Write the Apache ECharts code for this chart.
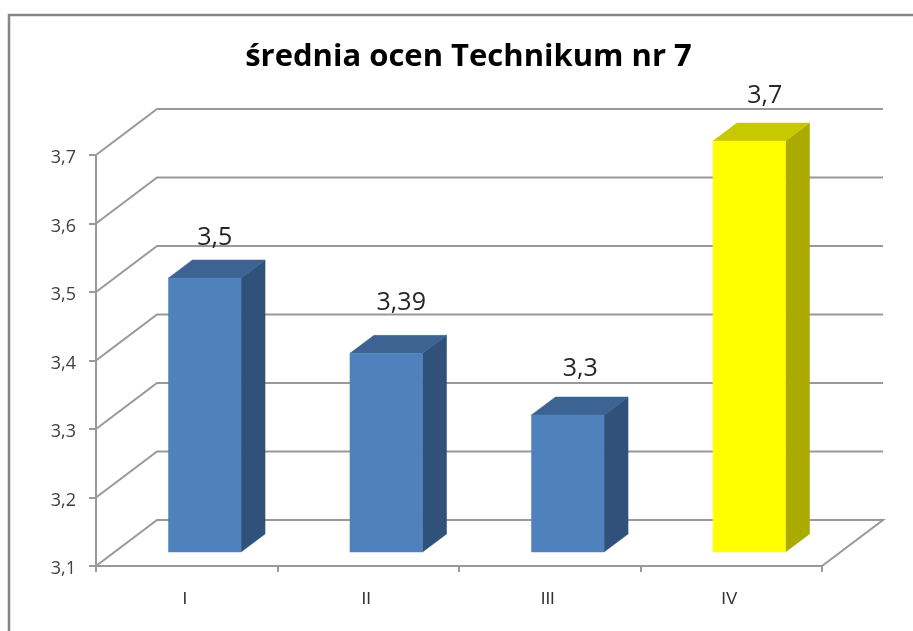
<!DOCTYPE html>
<html><head><meta charset="utf-8">
<style>html,body{margin:0;padding:0;background:#fff}#c{width:913px;height:631px}</style>
<script src="https://cdn.jsdelivr.net/npm/echarts@6/dist/echarts.min.js"></script>
</head><body><div id="c"></div>
<script>
const categories = ['I', 'II', 'III', 'IV'];
const values = [3.5, 3.39, 3.3, 3.7];
const valueLabels = ['3,5', '3,39', '3,3', '3,7'];
const yTicks = [3.1, 3.2, 3.3, 3.4, 3.5, 3.6, 3.7];
const titleText = 'średnia ocen Technikum nr 7';

const palette = [
  { front: '#4F81BD', top: '#3C6391', side: '#30527A' },
  { front: '#4F81BD', top: '#3C6391', side: '#30527A' },
  { front: '#4F81BD', top: '#3C6391', side: '#30527A' },
  { front: '#FFFF00', top: '#C8C800', side: '#AAAA00' }
];
const wall = { dx: 61, dy: -46 };
const barShift = { dx: 18, dy: -14 };
const barDepth = { dx: 24, dy: -18 };
const labelNudge = [[10, -22], [15, -32], [12.5, -28], [15.5, -27]];
const lineColor = '#999999';

function renderWall(params, api) {
  const cs = params.coordSys;
  const y = api.coord([0, api.value(0)])[1];
  const x0 = cs.x, x1 = cs.x + cs.width;
  const pts = [[x0, y], [x0 + wall.dx, y + wall.dy], [x1 + wall.dx, y + wall.dy]];
  if (api.value(0) === yTicks[0]) pts.push([x1, y]);
  return { type: 'polyline', shape: { points: pts },
    style: { stroke: lineColor, lineWidth: 2, fill: null } };
}

function renderBar(params, api) {
  const i = api.value(0), v = api.value(1);
  const base = api.coord([i, yTicks[0]]);
  const peak = api.coord([i, v]);
  const w = api.size([1, 0])[0] * 0.4;
  const l = base[0] - w / 2 + barShift.dx, r = l + w;
  const b = base[1] + barShift.dy, t = peak[1] + barShift.dy;
  const d = barDepth, c = palette[i];
  const n = labelNudge[i];
  const poly = (pts, fill) => ({ type: 'polygon', shape: { points: pts },
    style: { fill: fill, stroke: fill, lineWidth: 0.5 } });
  return { type: 'group', children: [
    poly([[r, t], [r + d.dx, t + d.dy], [r + d.dx, b + d.dy], [r, b]], c.side),
    poly([[l, t], [l + d.dx, t + d.dy], [r + d.dx, t + d.dy], [r, t]], c.top),
    poly([[l, t], [r, t], [r, b], [l, b]], c.front),
    { type: 'text', x: (l + r) / 2 + n[0], y: t + d.dy + n[1], z2: 10,
      style: { text: valueLabels[i], fill: '#262626', fontSize: 25,
        fontFamily: 'Open Sans', align: 'center', verticalAlign: 'middle' } }
  ] };
}

const chart = echarts.init(document.getElementById('c'), null, { renderer: 'canvas' });
chart.setOption({
  animation: false,
  backgroundColor: '#ffffff',
  title: { text: titleText, left: 463.5, top: 37, textAlign: 'center',
    textStyle: { fontFamily: 'Open Sans', fontWeight: 'bold', fontSize: 31, color: '#000' } },
  grid: { left: 96, right: 91, top: 155, bottom: 65 },
  xAxis: { type: 'category', data: categories,
    axisLine: { lineStyle: { color: lineColor, width: 2 } },
    axisTick: { show: true, length: 6, lineStyle: { color: lineColor, width: 2 } },
    axisLabel: { margin: 25, fontFamily: 'Liberation Sans', fontSize: 17, color: '#333', padding: [0, 4, 0, 0] },
    splitLine: { show: false } },
  yAxis: { type: 'value', min: 3.1, max: 3.7, interval: 0.1,
    axisLine: { show: true, lineStyle: { color: lineColor, width: 2 } },
    axisTick: { show: true, length: 7, lineStyle: { color: lineColor, width: 2 } },
    axisLabel: { margin: 20, fontFamily: 'Open Sans', fontSize: 18, color: '#404040',
      verticalAlign: 'top', lineHeight: 6,
      formatter: v => v.toFixed(1).replace('.', ',') },
    splitLine: { show: false } },
  graphic: [
    { type: 'polyline', silent: true, z: 100,
      shape: { points: [[9, 631], [9, 15], [913, 15]] },
      style: { stroke: '#868686', lineWidth: 2.5, fill: null } }
  ],
  series: [
    { type: 'custom', renderItem: renderWall, z: 1, silent: true,
      encode: { y: 0 }, data: yTicks.map(v => [v]) },
    { type: 'custom', renderItem: renderBar, z: 3, silent: true,
      encode: { x: 0, y: 1 }, data: values.map((v, i) => [i, v]) }
  ]
});
</script></body></html>
